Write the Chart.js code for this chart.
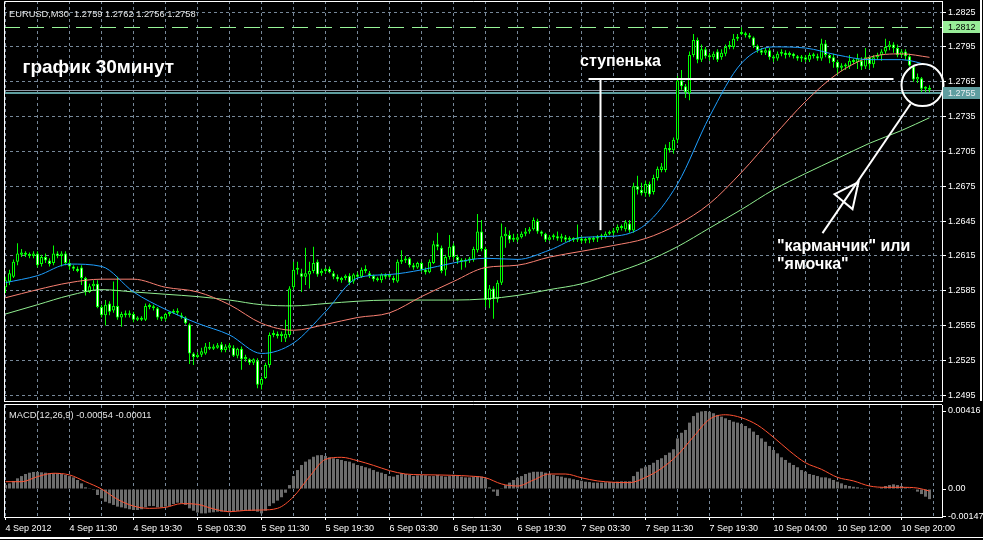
<!DOCTYPE html>
<html>
<head>
<meta charset="utf-8">
<title>EURUSD M30</title>
<script src="https://cdn.jsdelivr.net/npm/chart.js@4.4.1/dist/chart.umd.min.js"></script>
<style>
    html, body { margin: 0; padding: 0; background: #000; }
    #wrap { position: relative; width: 983px; height: 540px; background: #000; overflow: hidden; }
    #priceCanvas { position: absolute; left: 0; top: 0; }
    #macdCanvas { position: absolute; left: 0; top: 402px; }
    .edge { position: absolute; background: #fff; }
</style>
</head>
<body>
<div id="wrap">
    <canvas id="priceCanvas" width="983" height="402"></canvas>
    <canvas id="macdCanvas" width="983" height="138"></canvas>
    <div class="edge" style="left:980px; top:0; width:2px; height:401px;"></div>
    <div class="edge" style="left:0; top:537px; width:983px; height:1px;"></div>
    <div class="edge" style="left:0; top:537px; width:90px; height:2px;"></div>
</div>
<script>
// ===== Data =====
const priceTicks = [1.2495, 1.2525, 1.2555, 1.2585, 1.2615, 1.2645, 1.2675, 1.2705, 1.2735, 1.2765, 1.2795, 1.2825];
const macdTicks = [-0.00147, 0, 0.00416];
const timeLabels = ['4 Sep 2012', '4 Sep 11:30', '4 Sep 19:30', '5 Sep 03:30', '5 Sep 11:30', '5 Sep 19:30',
    '6 Sep 03:30', '6 Sep 11:30', '6 Sep 19:30', '7 Sep 03:30', '7 Sep 11:30', '7 Sep 19:30',
    '10 Sep 04:00', '10 Sep 12:00', '10 Sep 20:00'];

const openPrices = [
    1.2588,1.2593,1.2597,1.2610,1.2616,1.2617,1.2616,1.2615, 1.2617,1.2608,1.2614,1.2611,1.2609,1.2617,1.2615,1.2617,
    1.2609,1.2606,1.2604,1.2605,1.2596,1.2584,1.2589,1.2591, 1.2571,1.2564,1.2574,1.2568,1.2572,1.2562,1.2565,1.2564,
    1.2565,1.2560,1.2561,1.2560,1.2572,1.2571,1.2570,1.2562, 1.2561,1.2565,1.2566,1.2567,1.2564,1.2562,1.2556,1.2531,
    1.2528,1.2530,1.2531,1.2536,1.2535,1.2536,1.2539,1.2534, 1.2536,1.2536,1.2529,1.2535,1.2526,1.2526,1.2523,1.2525,
    1.2504,1.2510,1.2521,1.2547,1.2548,1.2546,1.2544,1.2547, 1.2588,1.2603,1.2600,1.2597,1.2599,1.2602,1.2610,1.2600,
    1.2602,1.2604,1.2600,1.2597,1.2594,1.2596,1.2598,1.2593, 1.2599,1.2597,1.2603,1.2600,1.2598,1.2595,1.2594,1.2599,
    1.2597,1.2596,1.2593,1.2610,1.2611,1.2613,1.2607,1.2605, 1.2609,1.2603,1.2601,1.2609,1.2625,1.2622,1.2603,1.2614,
    1.2624,1.2614,1.2611,1.2610,1.2611,1.2612,1.2620,1.2636, 1.2621,1.2577,1.2587,1.2578,1.2592,1.2632,1.2633,1.2629,
    1.2629,1.2631,1.2634,1.2636,1.2638,1.2645,1.2636,1.2634, 1.2629,1.2631,1.2632,1.2630,1.2631,1.2629,1.2630,1.2629,
    1.2630,1.2628,1.2629,1.2629,1.2630,1.2631,1.2631,1.2634, 1.2635,1.2637,1.2639,1.2638,1.2643,1.2637,1.2675,1.2672,
    1.2669,1.2677,1.2670,1.2682,1.2689,1.2689,1.2708,1.2706, 1.2715,1.2766,1.2761,1.2755,1.2788,1.2801,1.2784,1.2793,
    1.2787,1.2786,1.2791,1.2786,1.2789,1.2795,1.2795,1.2802, 1.2807,1.2806,1.2805,1.2803,1.2796,1.2792,1.2790,1.2792,
    1.2786,1.2785,1.2789,1.2790,1.2788,1.2789,1.2787,1.2785, 1.2786,1.2784,1.2788,1.2787,1.2785,1.2798,1.2788,1.2786,
    1.2782,1.2777,1.2779,1.2778,1.2783,1.2782,1.2783,1.2778, 1.2786,1.2780,1.2786,1.2788,1.2791,1.2795,1.2797,1.2794,
    1.2788,1.2791,1.2787,1.2778,1.2767,1.2768,1.2759,1.2759
];
const highPrices = [
    1.2597,1.2603,1.2612,1.2626,1.2621,1.2619,1.2618,1.2619, 1.2619,1.2616,1.2617,1.2613,1.2624,1.2619,1.2619,1.2619,
    1.2612,1.2607,1.2606,1.2607,1.2597,1.2591,1.2594,1.2594, 1.2573,1.2577,1.2576,1.2593,1.2597,1.2567,1.2568,1.2568,
    1.2567,1.2563,1.2563,1.2574,1.2574,1.2573,1.2571,1.2563, 1.2566,1.2567,1.2569,1.2570,1.2566,1.2563,1.2557,1.2532,
    1.2532,1.2536,1.2540,1.2541,1.2539,1.2540,1.2541,1.2539, 1.2540,1.2538,1.2536,1.2537,1.2530,1.2527,1.2527,1.2527,
    1.2511,1.2523,1.2549,1.2551,1.2550,1.2550,1.2560,1.2589, 1.2610,1.2610,1.2604,1.2622,1.2610,1.2623,1.2612,1.2604,
    1.2605,1.2606,1.2602,1.2599,1.2597,1.2599,1.2600,1.2600, 1.2601,1.2605,1.2607,1.2602,1.2599,1.2597,1.2600,1.2600,
    1.2600,1.2598,1.2612,1.2620,1.2615,1.2614,1.2609,1.2610, 1.2610,1.2605,1.2612,1.2628,1.2635,1.2624,1.2616,1.2633,
    1.2626,1.2616,1.2613,1.2613,1.2614,1.2623,1.2651,1.2646, 1.2623,1.2590,1.2589,1.2594,1.2643,1.2640,1.2637,1.2634,
    1.2634,1.2636,1.2639,1.2640,1.2648,1.2647,1.2637,1.2635, 1.2633,1.2634,1.2636,1.2634,1.2633,1.2632,1.2631,1.2642,
    1.2632,1.2631,1.2631,1.2632,1.2633,1.2634,1.2636,1.2637, 1.2639,1.2642,1.2642,1.2646,1.2646,1.2678,1.2684,1.2678,
    1.2680,1.2679,1.2685,1.2692,1.2695,1.2711,1.2713,1.2717, 1.2770,1.2775,1.2763,1.2791,1.2806,1.2803,1.2797,1.2795,
    1.2790,1.2791,1.2793,1.2793,1.2797,1.2800,1.2806,1.2806, 1.2812,1.2808,1.2807,1.2804,1.2797,1.2794,1.2794,1.2794,
    1.2788,1.2791,1.2793,1.2792,1.2791,1.2790,1.2788,1.2788, 1.2788,1.2790,1.2790,1.2789,1.2802,1.2801,1.2789,1.2789,
    1.2784,1.2781,1.2781,1.2788,1.2785,1.2789,1.2786,1.2794, 1.2787,1.2788,1.2790,1.2793,1.2802,1.2800,1.2799,1.2797,
    1.2793,1.2793,1.2789,1.2779,1.2772,1.2769,1.2761,1.2762
];
const lowPrices = [
    1.2583,1.2590,1.2596,1.2607,1.2614,1.2614,1.2613,1.2613, 1.2605,1.2606,1.2609,1.2606,1.2607,1.2613,1.2606,1.2607,
    1.2603,1.2602,1.2601,1.2590,1.2581,1.2583,1.2585,1.2570, 1.2562,1.2555,1.2564,1.2566,1.2560,1.2554,1.2562,1.2562,
    1.2558,1.2559,1.2559,1.2559,1.2569,1.2568,1.2560,1.2559, 1.2559,1.2563,1.2565,1.2564,1.2561,1.2556,1.2522,1.2521,
    1.2527,1.2528,1.2530,1.2534,1.2534,1.2535,1.2532,1.2532, 1.2534,1.2528,1.2527,1.2517,1.2524,1.2521,1.2521,1.2501,
    1.2500,1.2509,1.2519,1.2545,1.2544,1.2541,1.2541,1.2545, 1.2586,1.2599,1.2584,1.2590,1.2587,1.2600,1.2597,1.2598,
    1.2600,1.2600,1.2595,1.2593,1.2592,1.2594,1.2590,1.2591, 1.2596,1.2596,1.2600,1.2596,1.2593,1.2593,1.2592,1.2595,
    1.2596,1.2592,1.2592,1.2608,1.2609,1.2605,1.2603,1.2604, 1.2601,1.2599,1.2600,1.2608,1.2620,1.2600,1.2598,1.2612,
    1.2612,1.2608,1.2603,1.2605,1.2609,1.2610,1.2618,1.2619, 1.2571,1.2570,1.2561,1.2575,1.2590,1.2622,1.2626,1.2627,
    1.2627,1.2630,1.2632,1.2634,1.2637,1.2634,1.2632,1.2627, 1.2628,1.2629,1.2628,1.2627,1.2627,1.2627,1.2627,1.2627,
    1.2626,1.2626,1.2626,1.2627,1.2627,1.2629,1.2630,1.2633, 1.2633,1.2635,1.2637,1.2636,1.2635,1.2635,1.2668,1.2667,
    1.2666,1.2666,1.2668,1.2680,1.2687,1.2687,1.2704,1.2703, 1.2712,1.2758,1.2751,1.2749,1.2786,1.2781,1.2782,1.2785,
    1.2783,1.2784,1.2782,1.2784,1.2787,1.2793,1.2793,1.2800, 1.2805,1.2803,1.2802,1.2794,1.2790,1.2788,1.2788,1.2784,
    1.2782,1.2783,1.2787,1.2785,1.2786,1.2785,1.2783,1.2782, 1.2782,1.2782,1.2785,1.2783,1.2783,1.2786,1.2781,1.2777,
    1.2771,1.2774,1.2775,1.2776,1.2780,1.2776,1.2775,1.2776, 1.2776,1.2777,1.2784,1.2783,1.2789,1.2792,1.2790,1.2786,
    1.2786,1.2784,1.2778,1.2765,1.2764,1.2756,1.2756,1.2756
];
const closePrices = [
    1.2594,1.2600,1.2610,1.2617,1.2618,1.2616,1.2615,1.2617, 1.2607,1.2614,1.2611,1.2608,1.2617,1.2615,1.2617,1.2609,
    1.2606,1.2604,1.2602,1.2596,1.2584,1.2589,1.2591,1.2571, 1.2564,1.2573,1.2567,1.2572,1.2562,1.2565,1.2564,1.2565,
    1.2560,1.2562,1.2560,1.2572,1.2571,1.2570,1.2562,1.2561, 1.2565,1.2566,1.2567,1.2566,1.2562,1.2557,1.2531,1.2528,
    1.2530,1.2533,1.2537,1.2535,1.2537,1.2538,1.2534,1.2537, 1.2538,1.2529,1.2535,1.2526,1.2528,1.2523,1.2526,1.2504,
    1.2509,1.2521,1.2547,1.2548,1.2546,1.2548,1.2548,1.2587, 1.2603,1.2604,1.2597,1.2600,1.2602,1.2609,1.2599,1.2602,
    1.2604,1.2601,1.2597,1.2595,1.2596,1.2598,1.2592,1.2599, 1.2597,1.2603,1.2602,1.2598,1.2595,1.2594,1.2599,1.2597,
    1.2598,1.2594,1.2610,1.2611,1.2612,1.2607,1.2605,1.2609, 1.2603,1.2601,1.2610,1.2625,1.2623,1.2602,1.2614,1.2623,
    1.2614,1.2611,1.2610,1.2611,1.2612,1.2621,1.2636,1.2621, 1.2577,1.2587,1.2578,1.2592,1.2632,1.2634,1.2629,1.2630,
    1.2631,1.2634,1.2636,1.2638,1.2646,1.2636,1.2634,1.2629, 1.2631,1.2632,1.2630,1.2632,1.2629,1.2630,1.2629,1.2630,
    1.2628,1.2629,1.2630,1.2630,1.2631,1.2632,1.2634,1.2635, 1.2637,1.2640,1.2640,1.2644,1.2637,1.2675,1.2672,1.2669,
    1.2677,1.2668,1.2682,1.2690,1.2692,1.2708,1.2706,1.2715, 1.2766,1.2761,1.2756,1.2788,1.2801,1.2784,1.2793,1.2787,
    1.2786,1.2789,1.2784,1.2790,1.2795,1.2796,1.2802,1.2803, 1.2806,1.2805,1.2803,1.2796,1.2792,1.2790,1.2792,1.2786,
    1.2785,1.2789,1.2790,1.2788,1.2789,1.2787,1.2785,1.2786, 1.2784,1.2788,1.2787,1.2785,1.2798,1.2788,1.2785,1.2782,
    1.2777,1.2779,1.2778,1.2783,1.2782,1.2785,1.2778,1.2786, 1.2780,1.2786,1.2788,1.2791,1.2795,1.2797,1.2794,1.2788,
    1.2791,1.2787,1.2779,1.2767,1.2769,1.2759,1.2760,1.2758
];

// moving averages, sampled every 8 bars
const maIndex = [0,8,16,24,32,40,48,56,64,72,80,88,96,104,112,120,128,136,144,152,160,168,176,184,192,200,208,216,224,231];
const maFast = [1.2592,1.2598,1.2608,1.2606,1.2584,1.2569,1.2557,1.2547,1.2531,1.2540,1.2567,1.2596,1.2599,1.2603,1.2609,
    1.2613,1.2612,1.2620,1.2631,1.2632,1.2642,1.2677,1.2735,1.2781,1.2795,1.2794,1.2788,1.2784,1.2784,1.2779];
const maMid = [1.2579,1.2586,1.2592,1.2595,1.2595,1.2588,1.2584,1.2573,1.2557,1.2551,1.2556,1.2562,1.2566,1.2580,1.2593,
    1.2605,1.2607,1.2614,1.2619,1.2624,1.2630,1.2642,1.2660,1.2687,1.2718,1.2748,1.2772,1.2786,1.2789,1.2786];
const maSlow = [1.2565,1.2573,1.2581,1.2586,1.2584,1.2582,1.2580,1.2577,1.2573,1.2572,1.2574,1.2576,1.2577,1.2577,1.2577,
    1.2578,1.2581,1.2586,1.2591,1.2600,1.2610,1.2623,1.2639,1.2655,1.2672,1.2686,1.2699,1.2712,1.2723,1.2734];

// MACD(12,26,9) histogram, one value per bar
const macdMain = [
    0.00021,0.00030,0.00043,0.00057,0.00069,0.00080,0.00087,0.00091, 0.00091,0.00089,0.00087,0.00084,0.00084,0.00084,0.00080,0.00075,
    0.00069,0.00062,0.00048,0.00030,0.00009,0.00004,-0.00005,-0.00032, -0.00050,-0.00068,-0.00076,-0.00085,-0.00094,-0.00098,-0.00103,-0.00108,
    -0.00112,-0.00112,-0.00108,-0.00098,-0.00091,-0.00091,-0.00098,-0.00098, -0.00094,-0.00091,-0.00080,-0.00073,-0.00076,-0.00085,-0.00103,-0.00116,
    -0.00126,-0.00130,-0.00130,-0.00126,-0.00124,-0.00121,-0.00121,-0.00121, -0.00124,-0.00121,-0.00117,-0.00116,-0.00117,-0.00117,-0.00116,-0.00121,
    -0.00130,-0.00116,-0.00091,-0.00076,-0.00062,-0.00044,-0.00020,0.00021, 0.00069,0.00101,0.00128,0.00146,0.00158,0.00172,0.00180,0.00181,
    0.00176,0.00169,0.00164,0.00160,0.00155,0.00149,0.00146,0.00137, 0.00128,0.00123,0.00116,0.00110,0.00101,0.00092,0.00087,0.00080,
    0.00069,0.00066,0.00075,0.00084,0.00080,0.00075,0.00069,0.00073, 0.00075,0.00073,0.00069,0.00069,0.00075,0.00069,0.00066,0.00069,
    0.00075,0.00069,0.00066,0.00062,0.00062,0.00066,0.00069,0.00066, 0.00057,0.00009,-0.00014,-0.00037,0.00004,0.00021,0.00034,0.00048,
    0.00060,0.00069,0.00080,0.00087,0.00092,0.00092,0.00092,0.00087, 0.00080,0.00075,0.00069,0.00066,0.00060,0.00057,0.00052,0.00048,
    0.00044,0.00039,0.00037,0.00034,0.00034,0.00034,0.00036,0.00037, 0.00037,0.00039,0.00041,0.00041,0.00041,0.00069,0.00092,0.00110,
    0.00119,0.00128,0.00140,0.00155,0.00164,0.00181,0.00194,0.00212, 0.00270,0.00300,0.00315,0.00354,0.00389,0.00407,0.00414,0.00416,
    0.00412,0.00404,0.00395,0.00386,0.00377,0.00368,0.00359,0.00354, 0.00347,0.00336,0.00324,0.00306,0.00288,0.00270,0.00252,0.00229,
    0.00208,0.00190,0.00169,0.00155,0.00140,0.00128,0.00116,0.00101, 0.00092,0.00080,0.00075,0.00069,0.00062,0.00062,0.00057,0.00048,
    0.00039,0.00030,0.00021,0.00016,0.00012,0.00009,0.00005,0.00004, 0.00002,0.00000,0.00002,0.00009,0.00016,0.00021,0.00025,0.00021,
    0.00016,0.00009,0.00004,-0.00002,-0.00014,-0.00027,-0.00041,-0.00054
];
// signal line, sampled every 4 bars
const signalIndex = [0,4,8,12,16,20,24,28,32,36,40,44,48,52,56,60,64,68,72,76,80,84,88,92,96,100,104,108,112,116,
    120,124,128,132,136,140,144,148,152,156,160,164,168,172,176,180,184,188,192,196,200,204,208,212,216,220,224,228,231];
const macdSignal = [0.00039,0.00039,0.00066,0.00084,0.00075,0.00039,0.00000,-0.00055,-0.00091,-0.00103,-0.00098,-0.00078,-0.00082,
    -0.00106,-0.00121,-0.00114,-0.00112,-0.00103,-0.00041,0.00066,0.00158,0.00169,0.00151,0.00126,0.00098,0.00080,0.00076,0.00075,
    0.00073,0.00069,0.00060,0.00027,0.00016,0.00048,0.00080,0.00080,0.00060,0.00043,0.00036,0.00034,0.00062,0.00110,0.00181,
    0.00279,0.00372,0.00396,0.00380,0.00341,0.00276,0.00203,0.00140,0.00105,0.00062,0.00043,0.00016,0.00009,0.00009,0.00005,-0.00011];

const askPrice = 1.2812;
const bidPrice = 1.2758;
const levelPrice = 1.2755;

// ===== Shared look =====
const FONT = '"Liberation Sans", Arial, sans-serif';
const GRID = '#778899';
const X_MIN = -0.375, X_MAX = 234.125;
const gridBars = [];
for (let b = 0; b <= 232; b += 8) gridBars.push(b);

function hline(ctx, x1, x2, y) {
    ctx.beginPath(); ctx.moveTo(x1, y); ctx.lineTo(x2, y); ctx.stroke();
}

// keep Chart.js from reserving room for the edge labels
function noScalePadding(s) {
    s.paddingTop = 0; s.paddingBottom = 0; s.paddingLeft = 0; s.paddingRight = 0;
}

// ===== Price panel overlays =====
const pricePanel = {
    id: 'pricePanel',
    beforeDatasetsDraw(chart) {
        const { ctx, chartArea: a, scales: { y } } = chart;
        ctx.save();
        ctx.lineWidth = 1;
        ctx.strokeStyle = '#98f598';
        ctx.setLineDash([16, 8]);
        hline(ctx, a.left, a.right, Math.round(y.getPixelForValue(askPrice)) + 0.5);
        ctx.setLineDash([]);
        ctx.strokeStyle = '#8d99a6';
        hline(ctx, a.left, a.right, Math.round(y.getPixelForValue(bidPrice)) + 0.5);
        ctx.strokeStyle = '#5f9ea0';
        ctx.lineWidth = 2;
        hline(ctx, a.left, a.right, Math.round(y.getPixelForValue(levelPrice)));
        ctx.restore();
    },
    afterDatasetsDraw(chart) {
        const { ctx, scales: { x, y } } = chart;
        const px = v => x.getPixelForValue(v);
        const py = v => y.getPixelForValue(v);
        ctx.save();
        ctx.strokeStyle = '#fff';
        ctx.lineWidth = 2;
        // "step" level
        hline(ctx, px(145.75), px(222), py(1.27673));
        ctx.beginPath(); ctx.moveTo(px(148.75), py(1.27673)); ctx.lineTo(px(148.75), py(1.26372)); ctx.stroke();
        // circle round the pocket
        ctx.beginPath(); ctx.arc(px(229.25), py(1.27621), 21, 0, Math.PI * 2); ctx.stroke();
        // pointer with arrow head
        ctx.beginPath(); ctx.moveTo(px(226.25), py(1.27458)); ctx.lineTo(px(204.25), py(1.26346)); ctx.stroke();
        ctx.beginPath();
        ctx.moveTo(px(213.25), py(1.26786));
        ctx.lineTo(px(207.25), py(1.26682));
        ctx.lineTo(px(211.75), py(1.26553));
        ctx.closePath();
        ctx.stroke();

        ctx.fillStyle = '#fff';
        ctx.textBaseline = 'alphabetic';
        ctx.textAlign = 'left';
        ctx.font = 'bold 19px ' + FONT;
        ctx.fillText('график 30минут', 22.5, 73);
        ctx.font = 'bold 16px ' + FONT;
        ctx.fillText('ступенька', 580, 66);
        ctx.fillText('"карманчик" или', 777, 251);
        ctx.fillText('"ямочка"', 777, 269);
        ctx.restore();
    },
    afterDraw(chart) {
        const { ctx, chartArea: a, scales: { y } } = chart;
        ctx.save();
        ctx.strokeStyle = '#fff';
        ctx.lineWidth = 1;
        ctx.beginPath();
        ctx.moveTo(a.left + 0.5, a.bottom); ctx.lineTo(a.left + 0.5, a.top + 0.5); ctx.lineTo(a.right, a.top + 0.5);
        ctx.stroke();

        ctx.font = '9.3px ' + FONT;
        ctx.fillStyle = '#e4e4e4';
        ctx.textBaseline = 'middle';
        ctx.fillText('EURUSD,M30  1.2759 1.2762 1.2756 1.2758', 9, 14);

        // price tags on the axis
        const tag = (price, bg, fg) => {
            const cy = Math.round(y.getPixelForValue(price));
            ctx.fillStyle = bg;
            ctx.fillRect(a.right + 1, cy - 6, 37, 12);
            ctx.fillStyle = fg;
            ctx.font = '9px ' + FONT;
            ctx.fillText(price.toFixed(4), a.right + 6, cy + 0.5);
        };
        tag(askPrice, '#98ec98', '#000');
        tag(levelPrice, '#5f9ea0', '#e8eef0');
        ctx.restore();
    }
};

const macdPanel = {
    id: 'macdPanel',
    afterDraw(chart) {
        const { ctx, chartArea: a } = chart;
        ctx.save();
        ctx.strokeStyle = '#fff';
        ctx.lineWidth = 1;
        ctx.beginPath();
        ctx.moveTo(a.left + 0.5, a.bottom); ctx.lineTo(a.left + 0.5, a.top - 0.5); ctx.lineTo(a.right, a.top - 0.5);
        ctx.stroke();
        ctx.fillStyle = '#e4e4e4';
        ctx.font = '9.3px ' + FONT;
        ctx.textBaseline = 'middle';
        ctx.fillText('MACD(12,26,9) -0.00054 -0.00011', 9, 13);
        ctx.restore();
    }
};

const bars = openPrices.map((o, i) => i);

new Chart(document.getElementById('priceCanvas'), {
    type: 'bar',
    data: {
        datasets: [
            { type: 'line', data: maIndex.map((b, k) => ({ x: b, y: maFast[k] })), borderColor: '#1e9fff', borderWidth: 1,
              pointRadius: 0, cubicInterpolationMode: 'monotone', order: 0 },
            { type: 'line', data: maIndex.map((b, k) => ({ x: b, y: maMid[k] })), borderColor: '#fa8072', borderWidth: 1,
              pointRadius: 0, cubicInterpolationMode: 'monotone', order: 1 },
            { type: 'line', data: maIndex.map((b, k) => ({ x: b, y: maSlow[k] })), borderColor: '#90ee90', borderWidth: 1,
              pointRadius: 0, cubicInterpolationMode: 'monotone', order: 2 },
            {
                // candle bodies: bull = black, bear = white
                data: bars.map(i => ({ x: i, y: [openPrices[i], closePrices[i]] })),
                backgroundColor: c => closePrices[c.dataIndex] >= openPrices[c.dataIndex] ? '#000' : '#fff',
                borderColor: '#00ff00', borderWidth: 1, borderSkipped: false,
                barThickness: 3, minBarLength: 2, grouped: false, inflateAmount: 0, order: 3
            },
            {
                // wicks
                data: bars.map(i => ({ x: i, y: [lowPrices[i], highPrices[i]] })),
                backgroundColor: '#00ff00', borderWidth: 0,
                barThickness: 1, minBarLength: 1, grouped: false, inflateAmount: 0, order: 4
            }
        ]
    },
    options: {
        responsive: false,
        animation: false,
        layout: { padding: { left: 4, top: 1, right: 0, bottom: 1 } },
        plugins: { legend: { display: false }, tooltip: { enabled: false } },
        scales: {
            x: {
                type: 'linear', min: X_MIN, max: X_MAX, offset: false,
                afterBuildTicks: s => { s.ticks = gridBars.map(v => ({ value: v })); },
                afterFit: noScalePadding,
                ticks: { display: false },
                grid: { color: GRID, drawTicks: false, offset: false },
                border: { display: true, color: '#fff', dash: [3, 3] }
            },
            y: {
                position: 'right', min: 1.24901, max: 1.28345,
                afterBuildTicks: s => { s.ticks = priceTicks.map(v => ({ value: v })); },
                afterFit: s => { s.width = 41; noScalePadding(s); },
                ticks: { color: '#fff', font: { family: FONT, size: 9 }, padding: 2, callback: v => v.toFixed(4) },
                grid: { color: GRID, tickColor: '#fff', tickLength: 4, tickBorderDash: [] },
                border: { display: true, color: '#fff', dash: [3, 3] }
            }
        }
    },
    plugins: [pricePanel]
});

new Chart(document.getElementById('macdCanvas'), {
    type: 'bar',
    data: {
        datasets: [
            { type: 'line', data: signalIndex.map((b, k) => ({ x: b, y: macdSignal[k] })), borderColor: '#ff5030',
              borderWidth: 1, pointRadius: 0, cubicInterpolationMode: 'monotone', order: 0 },
            { data: bars.map(i => ({ x: i, y: macdMain[i] })), backgroundColor: '#6c6c6c', borderWidth: 0,
              barThickness: 3, grouped: false, inflateAmount: 0, order: 1 }
        ]
    },
    options: {
        responsive: false,
        animation: false,
        layout: { padding: { left: 4, top: 3, right: 0, bottom: 0 } },
        plugins: { legend: { display: false }, tooltip: { enabled: false } },
        scales: {
            x: {
                type: 'linear', min: X_MIN, max: X_MAX, offset: false,
                afterBuildTicks: s => { s.ticks = gridBars.map(v => ({ value: v })); },
                afterFit: s => { s.height = 23; noScalePadding(s); },
                ticks: {
                    display: true, autoSkip: false, maxRotation: 0, align: 'start', padding: 3,
                    color: '#fff', font: { family: FONT, size: 9 },
                    callback: v => (v % 16 === 0 && timeLabels[v / 16]) ? timeLabels[v / 16] : ''
                },
                grid: {
                    color: GRID, offset: false, tickLength: 3, tickBorderDash: [],
                    tickColor: c => (c.tick && c.tick.value % 16 === 0 && c.tick.value < 232) ? '#fff' : 'rgba(0,0,0,0)'
                },
                border: { display: true, color: '#fff', dash: [3, 3] }
            },
            y: {
                position: 'right', min: -0.001493, max: 0.00448,
                afterBuildTicks: s => { s.ticks = macdTicks.map(v => ({ value: v })); },
                afterFit: s => { s.width = 41; noScalePadding(s); },
                ticks: { color: '#fff', font: { family: FONT, size: 9 }, padding: 2,
                         callback: v => v === 0 ? '0.00' : v.toFixed(5) },
                grid: { drawOnChartArea: false, tickColor: '#fff', tickLength: 4 },
                border: { display: true, color: '#fff' }
            }
        }
    },
    plugins: [macdPanel]
});
</script>
</body>
</html>
